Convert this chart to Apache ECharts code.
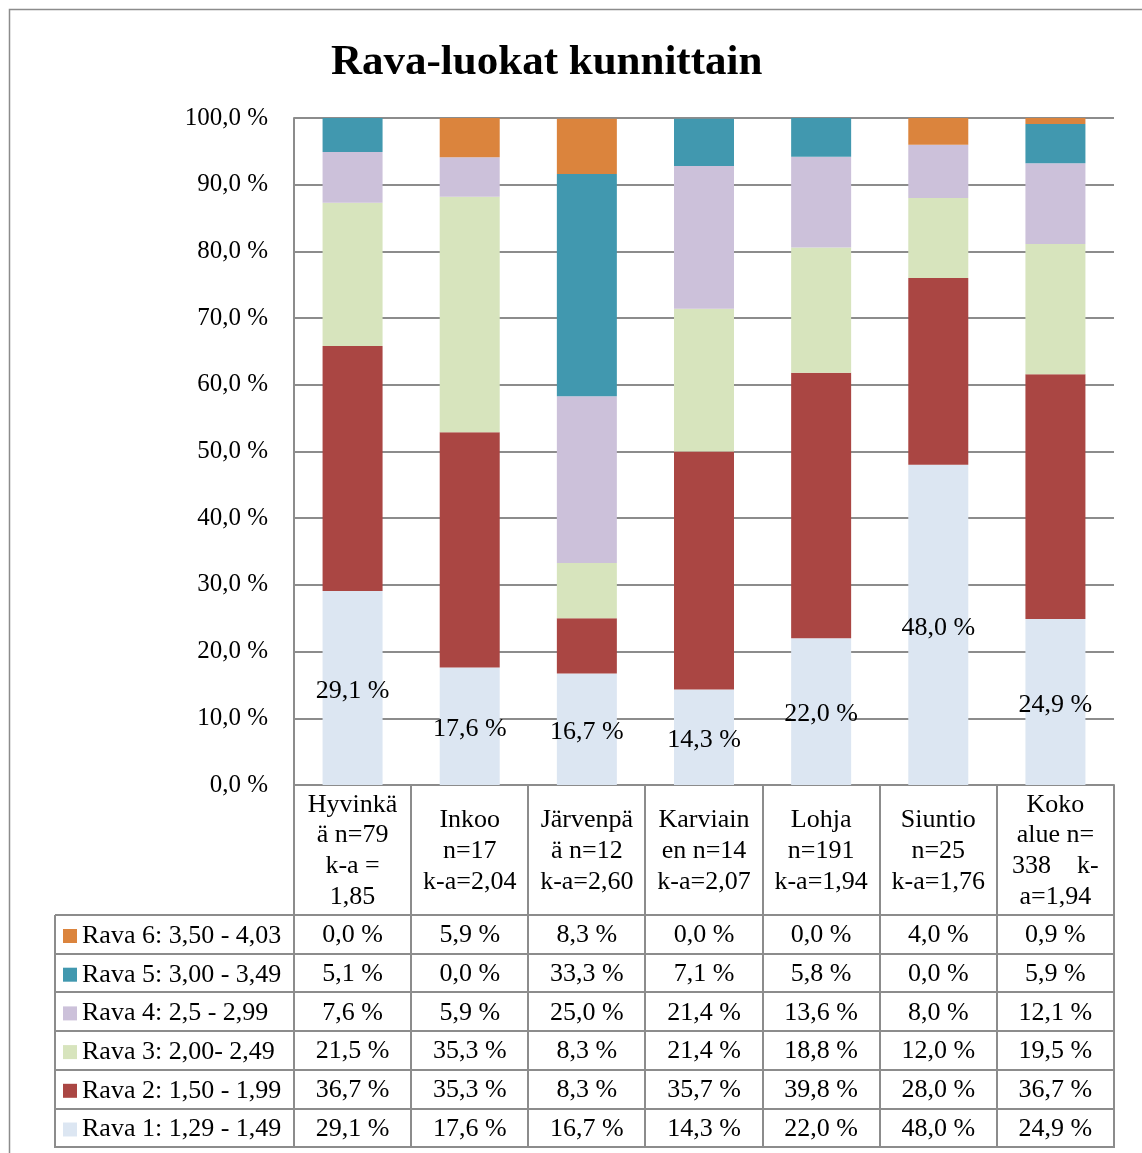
<!DOCTYPE html>
<html>
<head>
<meta charset="utf-8">
<script src="https://cdn.jsdelivr.net/npm/echarts@6/dist/echarts.min.js"></script>
<style>
  html, body { margin: 0; padding: 0; background: #fff; }
  #chart { width: 1142px; height: 1153px; }
</style>
</head>
<body>
<div id="chart"></div>
<script>
// kunnat (x-akselin otsikot, rivitetty kuten alkuperäisessä)
const categories = [
  'Hyvinkä\nä n=79\nk-a =\n1,85',
  'Inkoo\nn=17\nk-a=2,04',
  'Järvenpä\nä n=12\nk-a=2,60',
  'Karviain\nen n=14\nk-a=2,07',
  'Lohja\nn=191\nk-a=1,94',
  'Siuntio\nn=25\nk-a=1,76',
  'Koko\nalue n=\n338    k-\na=1,94'
];

const seriesNames = [
  'Rava 1: 1,29 - 1,49',
  'Rava 2: 1,50 - 1,99',
  'Rava 3: 2,00- 2,49',
  'Rava 4: 2,5 - 2,99',
  'Rava 5: 3,00 - 3,49',
  'Rava 6: 3,50 - 4,03'
];

const rava1 = [29.1, 17.6, 16.7, 14.3, 22.0, 48.0, 24.9];
const rava2 = [36.7, 35.3, 8.3, 35.7, 39.8, 28.0, 36.7];
const rava3 = [21.5, 35.3, 8.3, 21.4, 18.8, 12.0, 19.5];
const rava4 = [7.6, 5.9, 25.0, 21.4, 13.6, 8.0, 12.1];
const rava5 = [5.1, 0.0, 33.3, 7.1, 5.8, 0.0, 5.9];
const rava6 = [0.0, 5.9, 8.3, 0.0, 0.0, 4.0, 0.9];

const yTicks = [0, 10, 20, 30, 40, 50, 60, 70, 80, 90, 100];

const colors = ['#dce6f2', '#aa4643', '#d7e4bd', '#ccc1da', '#4198af', '#db843d'];

const serif = '"Liberation Serif", "DejaVu Serif", serif';
const lineColor = '#8c8c8c';
const fs = 26;

// pilkku desimaalierottimena
const pct = v => v.toFixed(1).replace('.', ',') + ' %';

const allData = [rava1, rava2, rava3, rava4, rava5, rava6];

// taulukon asettelu
const gridLeft = 294;
const gridRight = 1114;
const axisY = 785;
const tableTop = 915;
const rowH = 38.7;
const tableLeft = 55;
const tableBottom = Math.round(tableTop + rowH * 6);

const chart = echarts.init(document.getElementById('chart'));

// taulukon rivit: ylin rivi on Rava 6
const rowAxes = [];
for (let r = 0; r < 6; r++) {
  const idx = 5 - r;
  const center = tableTop + rowH * r + rowH / 2 + 1;
  rowAxes.push({
    type: 'category',
    gridIndex: 0,
    position: 'bottom',
    offset: center - axisY,
    data: allData[idx].map(pct),
    axisLine: { show: false },
    axisTick: { show: false },
    axisLabel: {
      margin: 0,
      verticalAlign: 'middle',
      fontFamily: serif,
      fontSize: fs,
      color: '#000',
      interval: 0
    }
  });
}

// taulukon viivat
const tableLines = [];
for (let r = 0; r <= 6; r++) {
  const y = Math.round(tableTop + rowH * r);
  tableLines.push({
    type: 'line',
    shape: { x1: tableLeft, y1: y, x2: gridRight, y2: y },
    style: { stroke: lineColor, lineWidth: 2 }
  });
}
tableLines.push({
  type: 'line',
  shape: { x1: tableLeft, y1: tableTop, x2: tableLeft, y2: tableBottom + 1 },
  style: { stroke: lineColor, lineWidth: 2 }
});
for (let c = 0; c <= categories.length; c++) {
  const x = Math.round(gridLeft + (gridRight - gridLeft) * c / categories.length);
  tableLines.push({
    type: 'line',
    shape: { x1: x, y1: axisY, x2: x, y2: tableBottom + 1 },
    style: { stroke: lineColor, lineWidth: 2 }
  });
}
// ulkokehys
tableLines.push({
  type: 'rect',
  shape: { x: 9.5, y: 9.5, width: 1150, height: 1160 },
  style: { fill: 'none', stroke: '#8c8c8c', lineWidth: 1.5 },
  z: -1
});

const series = allData.map((d, i) => ({
  name: seriesNames[i],
  type: 'bar',
  stack: 'total',
  barWidth: 60,
  data: d,
  itemStyle: { color: colors[i] },
  label: i === 0 ? {
    show: true,
    position: 'inside',
    offset: [0, 3],
    formatter: p => pct(p.value),
    fontFamily: serif,
    fontSize: fs,
    color: '#000'
  } : { show: false }
}));

const option = {
  animation: false,
  backgroundColor: '#fff',
  title: {
    text: 'Rava-luokat kunnittain',
    left: 326,
    top: 36,
    textStyle: { fontFamily: serif, fontSize: 43, fontWeight: 'bold', color: '#000' }
  },
  legend: {
    orient: 'vertical',
    left: 63,
    top: tableTop + 8,
    padding: 0,
    icon: 'rect',
    itemWidth: 14,
    itemHeight: 14,
    itemGap: rowH - 26,
    selectedMode: false,
    data: seriesNames.slice().reverse(),
    textStyle: { fontFamily: serif, fontSize: fs, lineHeight: 26, color: '#000' }
  },
  grid: { left: gridLeft, right: 1142 - gridRight, top: 118, bottom: 1153 - axisY },
  xAxis: [
    {
      type: 'category',
      data: categories,
      axisLine: { lineStyle: { color: lineColor, width: 2 } },
      axisTick: { show: false },
      axisLabel: {
        interval: 0,
        margin: 66,
        verticalAlign: 'middle',
        fontFamily: serif,
        fontSize: fs,
        lineHeight: 30.7,
        color: '#000'
      }
    }
  ].concat(rowAxes),
  yAxis: {
    type: 'value',
    min: yTicks[0],
    max: yTicks[yTicks.length - 1],
    interval: 10,
    axisLine: { show: true, lineStyle: { color: lineColor, width: 2 } },
    axisTick: { show: false },
    splitLine: { lineStyle: { color: lineColor, width: 2 } },
    axisLabel: {
      margin: 26,
      formatter: v => pct(v),
      fontFamily: serif,
      fontSize: 25,
      color: '#000'
    }
  },
  graphic: tableLines,
  series: series
};

chart.setOption(option);
</script>
</body>
</html>
